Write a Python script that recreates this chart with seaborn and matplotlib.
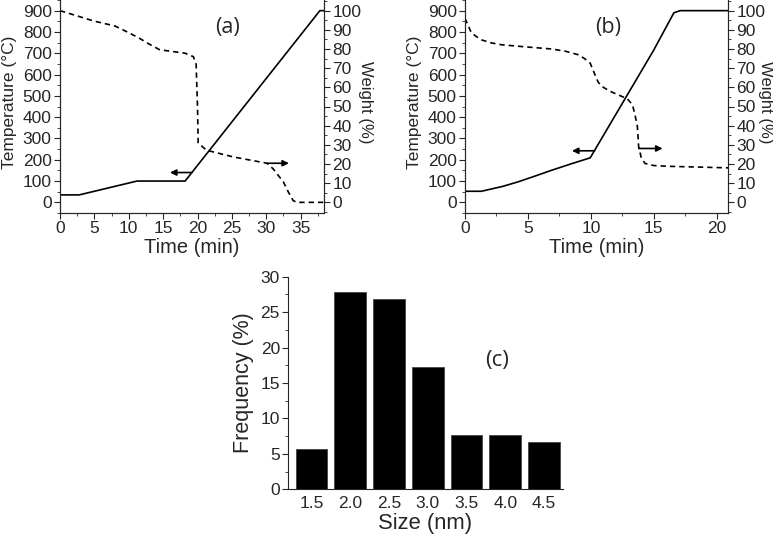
import seaborn as sns
import matplotlib.pyplot as plt
from matplotlib.ticker import MultipleLocator

# panel (a): temperature program and weight loss
time_a_temp = [0, 2.8, 11.2, 18.2, 37.8, 38.4]
temp_a = [35, 35, 100, 100, 900, 900]
time_a_wt = [0, 5, 8, 10, 11.5, 13, 14.5, 18.2, 19.4, 19.8, 20.0, 20.1, 21.3, 25.2, 30.1, 31, 32.5, 33.2, 33.9, 34.4, 38.4]
weight_a = [100, 94.5, 92, 88.5, 85.7, 82.5, 79.6, 77.8, 76, 72, 50, 31, 27.2, 23.7, 20.4, 17.5, 10.6, 5.5, 1, 0, 0]

# panel (b)
time_b_temp = [0, 1.3, 3.0, 4.2, 5.5, 6.9, 8.5, 9.95, 15.0, 16.6, 17.1, 20.9]
temp_b = [52, 52, 75, 96, 122, 151, 182, 209, 715, 890, 900, 900]
time_b_wt = [0, 0.2, 0.5, 0.9, 1.3, 2, 2.9, 5, 6.9, 8, 9, 9.5, 9.95, 10.3, 10.6, 10.9, 11.5, 12.2,
             12.9, 13.3, 13.5, 13.7, 13.8, 14.0, 14.3, 15, 16.2, 20.9]
weight_b = [96, 93, 88.5, 86.5, 84.8, 83.3, 82.2, 81, 80, 78.8, 77, 75, 72.6, 67, 62.5, 60.4, 58, 56,
            54, 51, 46, 39.4, 29, 23.5, 20.3, 19.2, 18.8, 18]

# panel (c): size distribution
sizes = [1.5, 2.0, 2.5, 3.0, 3.5, 4.0, 4.5]
freq = [5.7, 27.8, 26.9, 17.25, 7.66, 7.66, 6.7]
size_labels = ['1.5', '2.0', '2.5', '3.0', '3.5', '4.0', '4.5']

sns.set_style('ticks')
plt.rcParams['font.family'] = ['Liberation Sans', 'DejaVu Sans']
plt.rcParams['lines.dashed_pattern'] = [3.2, 2.4]

W, H = 773, 539
fig = plt.figure(figsize=(W / 100, H / 100), dpi=100)


def style_ax(ax, size=12.5):
    ax.tick_params(which='major', direction='out', length=4, width=0.8, labelsize=size, pad=2)
    ax.tick_params(which='minor', direction='out', length=2, width=0.6)
    for s in ax.spines.values():
        s.set_linewidth(0.8)


def tga_panel(rect, t_temp, temp, t_wt, wt, xmax, xmaj, tag, tag_pos, arr_l, arr_r, lx, rx):
    ax = fig.add_axes(rect)
    sns.lineplot(x=t_temp, y=temp, ax=ax, color='k', lw=1.2, sort=False, estimator=None)
    ax.set_xlim(0, xmax)
    ax.set_ylim(-50, 950)
    ax.xaxis.set_major_locator(MultipleLocator(xmaj))
    ax.xaxis.set_minor_locator(MultipleLocator(xmaj / 2))
    ax.yaxis.set_major_locator(MultipleLocator(100))
    ax.yaxis.set_minor_locator(MultipleLocator(50))
    ax.set_xlabel('Time (min)', fontsize=14.5, labelpad=1)
    ax.set_ylabel('Temperature (°C)', fontsize=12.5, va='center')
    ax.yaxis.set_label_coords(lx, 0.52)
    ax.spines['top'].set_visible(False)
    style_ax(ax)
    ax.text(tag_pos[0], tag_pos[1], tag, fontsize=15.5, ha='center', va='center', family='Open Sans')
    ax.annotate('', xy=arr_l[1], xytext=arr_l[0],
                arrowprops=dict(arrowstyle='-|>', color='k', lw=1.2, mutation_scale=9, shrinkA=0, shrinkB=0))

    ax2 = ax.twinx()
    sns.lineplot(x=t_wt, y=wt, ax=ax2, color='k', lw=1.2, linestyle='--', sort=False, estimator=None)
    ax2.set_ylim(-50 / 9, 950 / 9)
    ax2.yaxis.set_major_locator(MultipleLocator(10))
    ax2.yaxis.set_minor_locator(MultipleLocator(5))
    ax2.set_ylabel('Weight (%)', fontsize=12, rotation=270, va='center', ha='center')
    ax2.yaxis.set_label_coords(rx, 0.52)
    ax2.spines['top'].set_visible(False)
    style_ax(ax2)
    ax2.annotate('', xy=arr_r[1], xytext=arr_r[0],
                 arrowprops=dict(arrowstyle='-|>', color='k', lw=1.2, mutation_scale=9, shrinkA=0, shrinkB=0))
    return ax, ax2


tga_panel([60 / W, 1 - 213 / H, 264 / W, 213 / H], time_a_temp, temp_a, time_a_wt, weight_a,
          38.4, 5, '(a)', (24.3, 820), ((19.2, 140), (16.0, 140)), ((30.1, 20.4), (33.3, 20.4)),
          (10 - 60) / 264, (365 - 60) / 264)
tga_panel([465 / W, 1 - 213 / H, 263 / W, 213 / H], time_b_temp, temp_b, time_b_wt, weight_b,
          20.9, 5, '(b)', (11.4, 820), ((10.3, 242), (8.5, 242)), ((13.8, 28.1), (15.7, 28.1)),
          (414 - 465) / 263, (765 - 465) / 263)

axc = fig.add_axes([288.3 / W, 1 - 489.3 / H, 274.4 / W, 212.6 / H])
sns.barplot(x=sizes, y=freq, ax=axc, native_scale=True, width=0.82, color='black',
            edgecolor='#444444', linewidth=0.6, saturation=1, errorbar=None)
axc.set_xlim(1.2, 4.74)
axc.set_ylim(0, 30)
axc.set_xticks(sizes)
axc.set_xticklabels(size_labels)
axc.yaxis.set_major_locator(MultipleLocator(5))
axc.yaxis.set_minor_locator(MultipleLocator(2.5))
style_ax(axc, size=12.5)
axc.tick_params(axis='x', which='both', length=0, pad=5)
axc.spines['top'].set_visible(False)
axc.spines['right'].set_visible(False)
axc.set_xlabel('Size (nm)', fontsize=15.8, labelpad=1)
axc.set_ylabel('Frequency (%)', fontsize=15.5, labelpad=5)
axc.text(3.89, 18.2, '(c)', fontsize=16, ha='center', va='center', family='Open Sans')

fig.savefig('out.png', dpi=100)
